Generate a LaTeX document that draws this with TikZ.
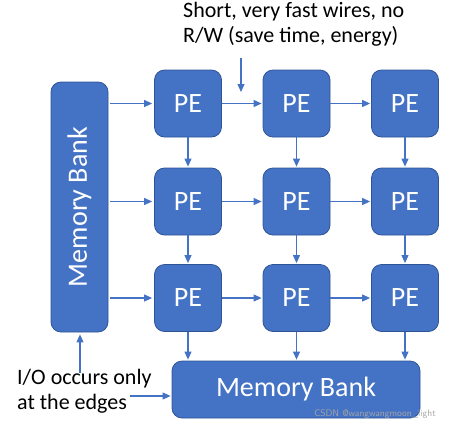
\documentclass[tikz,border=0pt]{standalone}
\usepackage{fontspec}
\setmainfont{Carlito}
\usetikzlibrary{arrows.meta}
\definecolor{pefill}{HTML}{4472C4}
\definecolor{peline}{HTML}{2F5597}
\definecolor{wire}{HTML}{4472C4}
\tikzset{
  pebox/.style={draw=peline, fill=pefill, line width=0.8pt, rounded corners=10pt,
    minimum width=67pt, minimum height=67pt, inner sep=0pt, text=white,
    font=\fontsize{28}{28}\selectfont},
  bankbox/.style={draw=peline, fill=pefill, line width=0.8pt, rounded corners=10pt,
    inner sep=0pt, text=white, font=\fontsize{28}{28}\selectfont},
  wirearrow/.style={draw=wire, line width=1.1pt, -{Triangle[length=8pt,width=7pt]}},
  note/.style={align=left, inner sep=0pt, font=\fontsize{22}{25}\selectfont, text=black, anchor=north west},
}
\begin{document}
\begin{tikzpicture}[x=1pt,y=-1pt]
\useasboundingbox (0,0) rectangle (450,429);
% PEs
\foreach \c/\x in {1/188,2/296.5,3/405}{
  \foreach \r/\y in {1/103.5,2/201.5,3/298}{
    \node[pebox] (p\r\c) at (\x,\y) {PE};
  }
}
% banks
\node[bankbox, minimum width=57pt, minimum height=250pt] (mbl) at (79.5,207) {};
\node[white, rotate=90, font=\fontsize{28}{28}\selectfont] (mbltext) at (mbl.center) {Memory Bank};
\node[bankbox, minimum width=248pt, minimum height=57pt] (mbb) at (296,389.5) {Memory Bank};
% horizontal arrows
\foreach \r in {1,2,3}{
  \draw[wirearrow, shorten <=2pt, shorten >=2pt] (mbl.east |- p\r1.west) -- (p\r1.west);
  \draw[wirearrow, shorten >=1pt] (p\r1.east) -- (p\r2.west);
  \draw[wirearrow, shorten >=1pt] (p\r2.east) -- (p\r3.west);
}
% vertical arrows
\foreach \c in {1,2,3}{
  \draw[wirearrow, shorten >=1pt] (p1\c.south) -- (p2\c.north);
  \draw[wirearrow, shorten >=1pt] (p2\c.south) -- (p3\c.north);
  \draw[wirearrow, shorten >=1pt] (p3\c.south) -- (p3\c.south |- mbb.north);
}
% annotations
\node[note] (topnote) at (183,2) {Short, very fast wires, no\\R/W (save time, energy)};
\coordinate (tna) at (241,58);
\coordinate (tnb) at (241,92);
\draw[wirearrow] (tna) -- (tnb);
\node[note] (ionote) at (17,369) {I/O occurs only\\at the edges};
\coordinate (ioa) at (80,373);
\draw[wirearrow, shorten >=2pt] (ioa) -- (ioa |- mbl.south);
\coordinate (iob) at (130,396);
\draw[wirearrow, shorten >=1pt] (iob) -- (iob -| mbb.west);
% watermark
\node[anchor=east, inner sep=0pt, text=gray!70, font=\fontsize{9.5}{10}\selectfont\sffamily] (wm) at (436,414) {CSDN @wangwangmoon\_light};
\end{tikzpicture}
\end{document}
